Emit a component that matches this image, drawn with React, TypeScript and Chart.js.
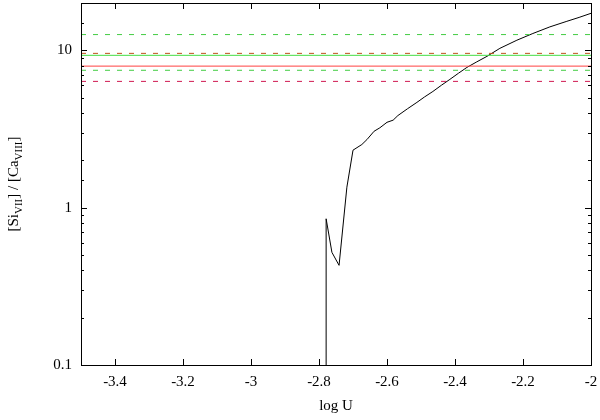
import React, { useEffect, useRef } from "react";
import { Chart, registerables } from "chart.js";
Chart.register(...registerables);

// model curve: log U vs [Si VII]/[Ca VIII]
const logU = [-2.779, -2.779, -2.762, -2.741, -2.718, -2.7, -2.674, -2.659, -2.638, -2.621, -2.6, -2.582, -2.568, -2.54, -2.512, -2.49, -2.465, -2.44, -2.415, -2.39, -2.365, -2.336, -2.306, -2.268, -2.218, -2.171, -2.121, -2.071, -2.035, -2.0];
const ratio = [0.01, 0.85, 0.52, 0.43, 1.35, 2.32, 2.52, 2.71, 3.06, 3.22, 3.49, 3.6, 3.85, 4.25, 4.67, 5.05, 5.48, 6.0, 6.54, 7.15, 7.79, 8.45, 9.16, 10.3, 11.6, 12.8, 14.1, 15.3, 16.2, 17.2];

// observed ratios (central value and bounds)
const greenObs = 9.3;
const greenLow = 7.47;
const greenHigh = 12.6;
const redObs = 7.94;
const redLow = 6.35;
const redHigh = 9.57;

const xRange = [-3.5, -2];
const yRange = [0.1, 20];
const xTicks = [-3.4, -3.2, -3.0, -2.8, -2.6, -2.4, -2.2, -2.0];
const yLabelled = [0.1, 1, 10];

const FONT = "'Liberation Serif', 'DejaVu Serif', serif";

const hline = (v: number, color: string, dash: number[]) => ({
  data: [
    { x: xRange[0], y: v },
    { x: xRange[1], y: v },
  ],
  borderColor: color,
  borderWidth: 1,
  borderDash: dash,
  pointRadius: 0,
  fill: false,
});

const framePlugin = {
  id: "frame",
  afterDraw(chart: any) {
    const { ctx, chartArea: a, scales } = chart;
    const xs = scales.x;
    const ys = scales.y;
    ctx.save();
    ctx.strokeStyle = "#000";
    ctx.lineWidth = 1;
    ctx.strokeRect(Math.round(a.left) + 0.5, Math.round(a.top) + 0.5, Math.round(a.right - a.left), Math.round(a.bottom - a.top));
    ctx.beginPath();
    for (const t of xs.ticks) {
      const px = Math.round(xs.getPixelForValue(t.value)) + 0.5;
      ctx.moveTo(px, a.bottom);
      ctx.lineTo(px, a.bottom - 6);
      ctx.moveTo(px, a.top);
      ctx.lineTo(px, a.top + 6);
    }
    for (const t of ys.ticks) {
      const v = t.value;
      const major = yLabelled.some((m) => Math.abs(m - v) < 1e-9);
      const len = major ? 6 : 3;
      const py = Math.round(ys.getPixelForValue(v)) + 0.5;
      ctx.moveTo(a.left, py);
      ctx.lineTo(a.left + len, py);
      ctx.moveTo(a.right, py);
      ctx.lineTo(a.right - len, py);
    }
    ctx.stroke();

    // axis titles
    ctx.fillStyle = "#000";
    ctx.font = `15px ${FONT}`;
    ctx.textAlign = "center";
    ctx.textBaseline = "alphabetic";
    ctx.fillText("log U", (a.left + a.right) / 2, 410);

    // y title with subscripts
    const parts: [string, boolean][] = [
      ["[Si", false],
      ["VII", true],
      ["] / [Ca", false],
      ["VIII", true],
      ["]", false],
    ];
    const big = `15px ${FONT}`;
    const small = `11px ${FONT}`;
    let total = 0;
    for (const [s, sub] of parts) {
      ctx.font = sub ? small : big;
      total += ctx.measureText(s).width;
    }
    ctx.translate(18, (a.top + a.bottom) / 2);
    ctx.rotate(-Math.PI / 2);
    ctx.textAlign = "left";
    let x = -total / 2;
    for (const [s, sub] of parts) {
      ctx.font = sub ? small : big;
      ctx.fillText(s, x, sub ? 4 : 0);
      x += ctx.measureText(s).width;
    }
    ctx.restore();
  },
};

export default function App() {
  const ref = useRef<HTMLCanvasElement>(null);
  useEffect(() => {
    document.body.style.margin = "0";
    const chart = new Chart(ref.current!, {
      type: "line",
      data: {
        datasets: [
          hline(greenHigh, "#44cc44", [5, 7]),
          hline(greenObs, "#44dd44", []),
          hline(redHigh, "#c0501c", [5, 7]),
          hline(redObs, "#ff4040", []),
          hline(greenLow, "#44cc44", [5, 7]),
          hline(redLow, "#d01850", [5, 7]),
          {
            data: logU.map((u, i) => ({ x: u, y: ratio[i] })),
            borderColor: "#000",
            borderWidth: 1,
            pointRadius: 0,
            fill: false,
            tension: 0,
          },
        ],
      },
      options: {
        animation: false,
        responsive: false,
        events: [],
        layout: { autoPadding: false, padding: { top: 3, right: 9, left: 0, bottom: 0 } },
        plugins: { legend: { display: false }, tooltip: { enabled: false } },
        scales: {
          x: {
            type: "linear",
            min: xRange[0],
            max: xRange[1],
            afterBuildTicks: (s: any) => {
              s.ticks = xTicks.map((v) => ({ value: v }));
            },
            afterFit: (s: any) => {
              s.height = 55;
              s.paddingLeft = 0;
              s.paddingRight = 0;
            },
            grid: { display: false, drawTicks: false },
            border: { display: false },
            ticks: {
              padding: 8,
              color: "#000",
              font: { family: FONT, size: 15 },
              callback: (v: any) => String(Number(Number(v).toFixed(1))),
              maxRotation: 0,
              autoSkip: false,
            },
          },
          y: {
            type: "logarithmic",
            min: yRange[0],
            max: yRange[1],
            afterFit: (s: any) => {
              s.width = 81;
              s.paddingTop = 0;
              s.paddingBottom = 0;
            },
            grid: { display: false, drawTicks: false },
            border: { display: false },
            ticks: {
              padding: 9,
              color: "#000",
              autoSkip: false,
              font: { family: FONT, size: 15 },
              callback: (v: any) => {
                const n = Number(v);
                return yLabelled.some((m) => Math.abs(m - n) < 1e-9) ? String(n) : "";
              },
            },
          },
        },
      },
      plugins: [framePlugin],
    } as any);
    return () => chart.destroy();
  }, []);
  return <canvas ref={ref} width={600} height={420} style={{ display: "block" }} />;
}
